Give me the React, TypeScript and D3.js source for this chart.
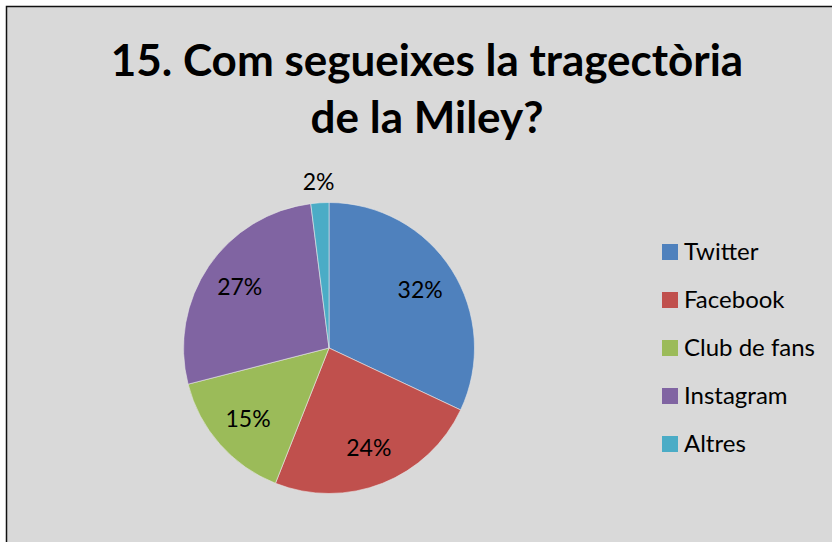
import React from 'react';
import * as d3 from 'd3';

// chart data
const categories = ['Twitter', 'Facebook', 'Club de fans', 'Instagram', 'Altres'];
const values = [32, 24, 15, 27, 2];
const colors = ['#4F81BD', '#C0504D', '#9BBB59', '#8064A2', '#4BACC6'];
const titleLines = ['15. Com segueixes la tragectòria', 'de la Miley?'];

const W = 832;
const H = 542;
const cx = 329;
const cy = 348;
const radius = 145.5;
const FONT = 'Lato, "Open Sans", sans-serif';

export default function App() {
  const pie = d3.pie<number>().sort(null).value(d => d);
  const arcs = pie(values);
  const total = d3.sum(values);

  const arc = d3.arc<d3.PieArcDatum<number>>().innerRadius(0).outerRadius(radius);
  const labelArc = d3.arc<d3.PieArcDatum<number>>().innerRadius(108).outerRadius(108);
  const outerLabelArc = d3.arc<d3.PieArcDatum<number>>().innerRadius(166).outerRadius(166);

  const legendY = d3.scalePoint<string>().domain(categories).range([252, 444]);

  return (
    <svg width={W} height={H} style={{ position: 'absolute', left: 0, top: 0, background: '#fff' }}>
      <rect x={6.5} y={6.5} width={W + 20} height={H + 20} fill="#D9D9D9" stroke="#111" strokeWidth={1.5} />

      {titleLines.map((t, i) => (
        <text key={i} x={427} y={76 + i * 57} textAnchor="middle" fontFamily={FONT}
          fontWeight="bold" fontSize={44} fill="#000">{t}</text>
      ))}

      <g transform={`translate(${cx},${cy})`}>
        {arcs.map((a, i) => (
          <path key={i} d={arc(a) || ''} fill={colors[i]} stroke="#E8E8E8" strokeWidth={0.6} />
        ))}
        {arcs.map((a, i) => {
          const pct = (a.data / total) * 100;
          const [x, y] = (pct < 5 ? outerLabelArc : labelArc).centroid(a);
          return (
            <text key={'l' + i} x={x} y={y} dy="0.35em" textAnchor="middle" fontFamily={FONT}
              fontSize={23} fill="#000">{Math.round(pct)}%</text>
          );
        })}
      </g>

      <g>
        {categories.map((c, i) => (
          <g key={c} transform={`translate(662,${legendY(c)})`}>
            <rect x={0} y={-8} width={16} height={16} fill={colors[i]} />
            <text x={22} y={0} dy="0.35em" fontFamily={FONT} fontSize={24} fill="#000">{c}</text>
          </g>
        ))}
      </g>
    </svg>
  );
}
